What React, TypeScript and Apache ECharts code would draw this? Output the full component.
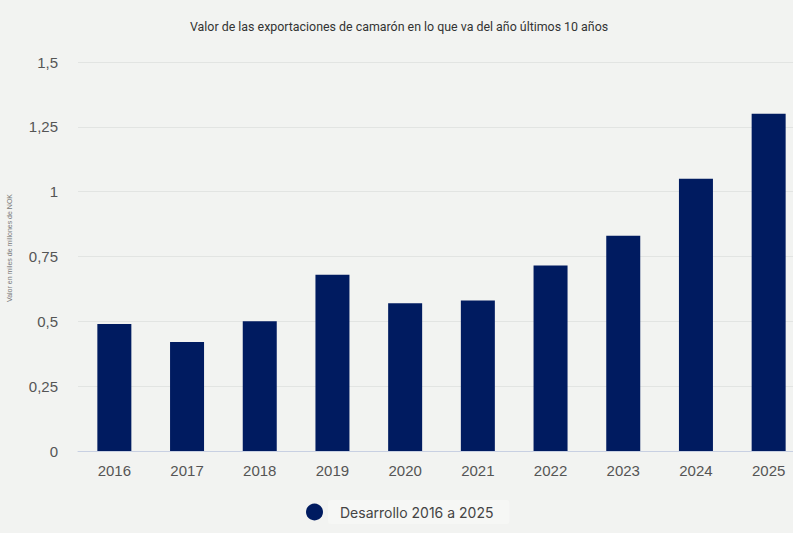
import React, { useEffect, useRef } from "react";
import * as echarts from "echarts";

const categories = ["2016", "2017", "2018", "2019", "2020", "2021", "2022", "2023", "2024", "2025"];
const values = [0.49, 0.42, 0.5, 0.68, 0.57, 0.58, 0.715, 0.83, 1.05, 1.3];
const seriesName = "Desarrollo 2016 a 2025";
const titleText = "Valor de las exportaciones de camarón en lo que va del año últimos 10 años";
const yAxisName = "Valor en miles de millones de NOK";

export default function App() {
  const ref = useRef<HTMLDivElement>(null);
  useEffect(() => {
    document.body.style.margin = "0";
    const chart = echarts.init(ref.current!, null, { renderer: "svg" });
    chart.setOption({
      animation: false,
      backgroundColor: "#f2f3f1",
      title: {
        text: titleText,
        left: 185,
        top: 15,
        textStyle: { fontFamily: "Roboto", fontSize: 12.4, fontWeight: "normal", color: "#333" },
      },
      graphic: [
        {
          type: "text",
          x: 9,
          y: 248,
          rotation: Math.PI / 2,
          style: {
            text: yAxisName,
            fontFamily: "Liberation Sans",
            fontSize: 7,
            fill: "#777",
            align: "center",
            verticalAlign: "middle",
          },
        },
      ],
      legend: {
        bottom: 4,
        left: 301,
        icon: "circle",
        itemWidth: 17,
        itemHeight: 17,
        itemGap: 5,
        textStyle: {
          fontFamily: "Inter",
          fontSize: 14,
          color: "#444",
          backgroundColor: "#f6f7f5",
          padding: [5, 16, 5, 12],
          borderRadius: 3,
        },
        data: [seriesName],
      },
      grid: { left: 78, top: 62, right: 0, bottom: 82 },
      xAxis: {
        type: "category",
        data: categories,
        axisLine: { lineStyle: { color: "#c8d0e2", width: 1 } },
        axisTick: { show: false },
        axisLabel: { fontFamily: "Liberation Sans", fontSize: 15, color: "#555", margin: 12 },
      },
      yAxis: {
        type: "value",
        min: 0,
        max: 1.5,
        interval: 0.25,
        axisLabel: {
          fontFamily: "Liberation Sans",
          fontSize: 15,
          color: "#555",
          margin: 20,
          formatter: (v: number) => String(v).replace(".", ","),
        },
        splitLine: { lineStyle: { color: "#e2e4e2", width: 1 } },
      },
      series: [
        {
          name: seriesName,
          type: "bar",
          data: values,
          barWidth: 34,
          itemStyle: { color: "#001b60" },
        },
      ],
    });
    return () => chart.dispose();
  }, []);
  return (
    <div style={{ width: 793, height: 533, overflow: "hidden", position: "relative" }}>
      <div ref={ref} style={{ width: 805, height: 533 }} />
    </div>
  );
}
